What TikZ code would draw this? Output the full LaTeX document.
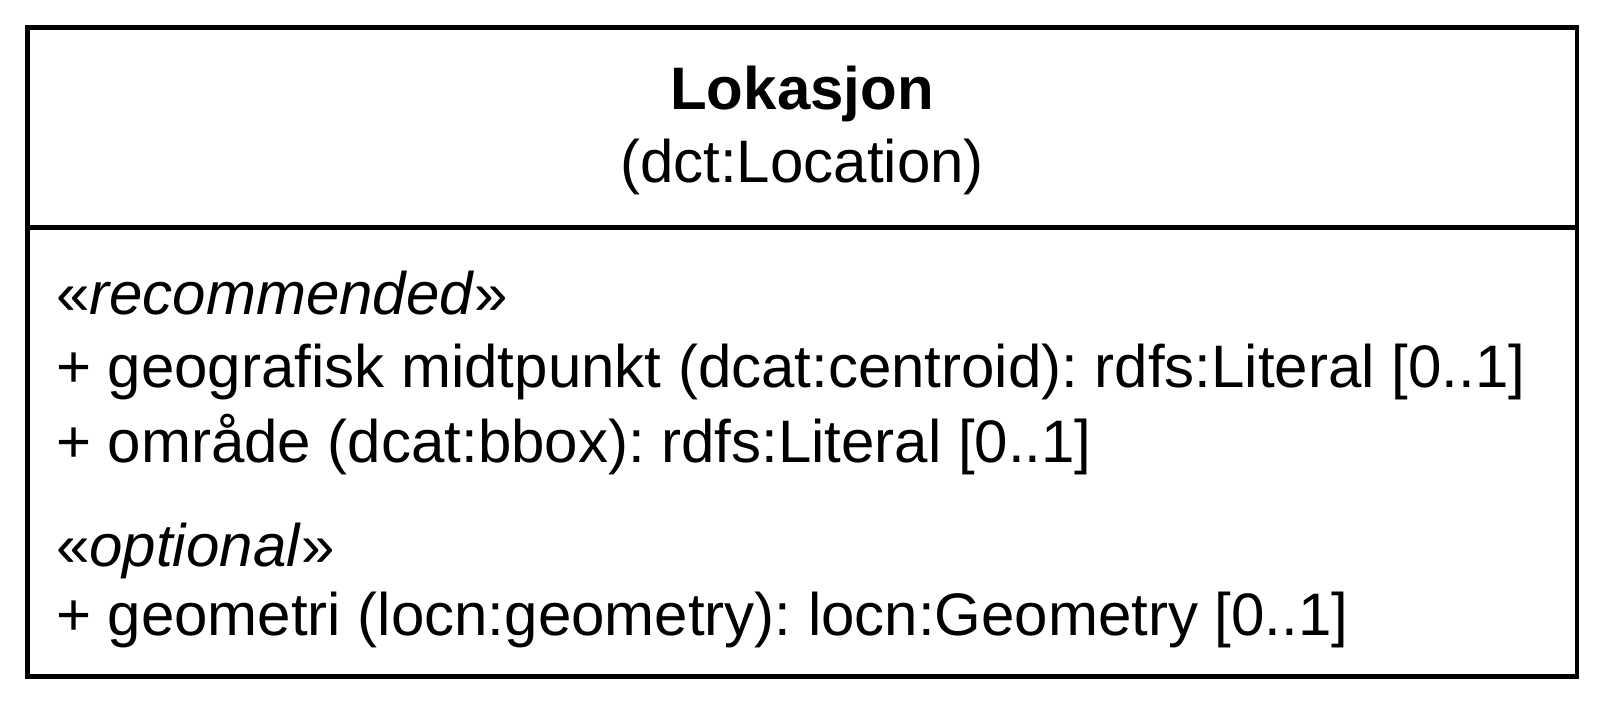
\documentclass[tikz,border=0pt]{standalone}
\usepackage{fontspec}
\setmainfont{Liberation Sans}
\frenchspacing
\begin{document}
\begin{tikzpicture}[x=1pt,y=-1pt,
  boxline/.style={draw=black,line width=4.5pt},
  attr/.style={anchor=base west,inner sep=0pt,font=\fontsize{60}{72}\selectfont},
  title/.style={anchor=base,inner sep=0pt,font=\fontsize{60}{72}\selectfont}]
\useasboundingbox (0,0) rectangle (1605,720);
\draw[boxline] (27.5,27.5) rectangle (1577,676.5);
\draw[boxline] (27.5,227.5) -- (1577,227.5);
\node[title,font=\fontsize{60}{72}\selectfont\bfseries] (name) at (802,109.5) {Lokasjon};
\node[title] (uri) at (802,182) {(dct:Location)};
\node[attr] (rec) at (56,314) {«\textit{recommended}»};
\node[attr] (a1) at (56,387) {+ geografisk midtpunkt (dcat:centroid): rdfs:Literal [0..1]};
\node[attr] (a2) at (56,462) {+ område (dcat:bbox): rdfs:Literal [0..1]};
\node[attr] (opt) at (56,566) {«\textit{optional}»};
\node[attr] (a3) at (56,635) {+ geometri (locn:geometry): locn:Geometry [0..1]};
\end{tikzpicture}
\end{document}
